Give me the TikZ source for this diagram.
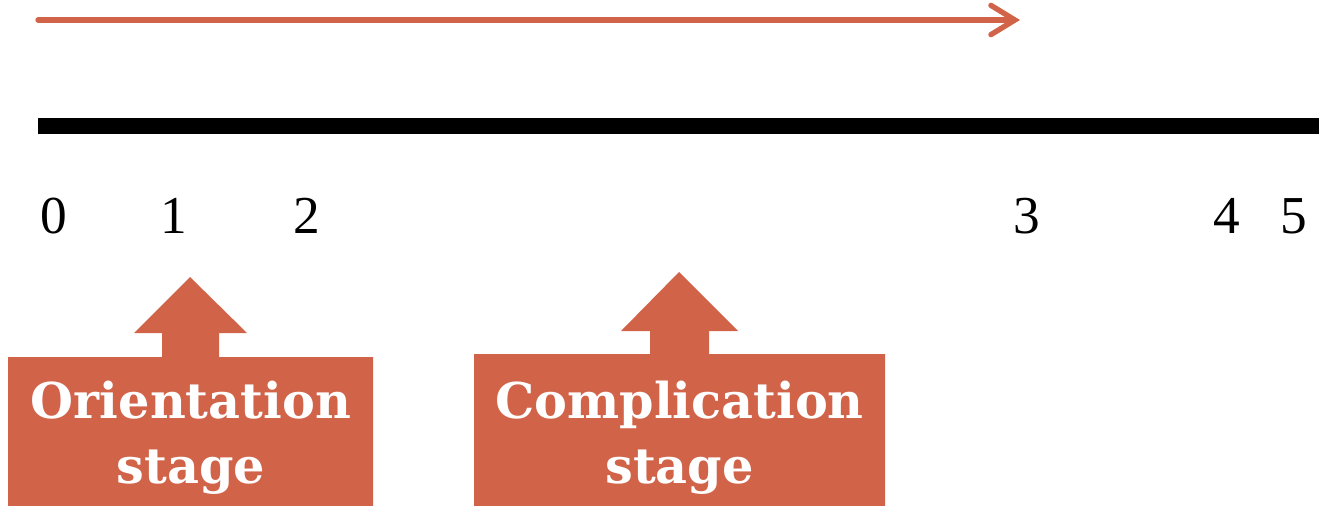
\documentclass[tikz,border=0pt]{standalone}
\usepackage{fontspec}
\setmainfont{Liberation Serif}
\newfontfamily\labfont{DejaVu Serif}
\usetikzlibrary{arrows.meta}
\definecolor{rust}{RGB}{209,99,73}
\tikzset{
  tick/.style={font=\fontsize{40pt}{48pt}\selectfont, anchor=base, inner sep=0pt},
  stagelabel/.style={font=\labfont\bfseries\fontsize{37pt}{48.75pt}\selectfont, text=white, align=center, inner sep=0pt},
  callout/.style={fill=rust},
}
\begin{document}
\begin{tikzpicture}[x=0.75pt,y=-0.75pt]
\useasboundingbox (0,0) rectangle (1319,506);
% timeline arrow
\coordinate (as) at (38,20);
\coordinate (ae) at (1020,20);
\draw[rust, line width=4pt, line cap=round, -{Straight Barb[length=18pt,width=22pt,line cap=round]}] (as) -- (ae);
% black bar
\coordinate (bs) at (38,126);
\coordinate (be) at (1319,126);
\draw[black, line width=12pt] (bs) -- (be);
% numbers
\node[tick] (n0) at (54,233) {0};
\node[tick] (n1) at (174,233) {1};
\node[tick] (n2) at (307,233) {2};
\node[tick] (n3) at (1027,233) {3};
\node[tick] (n4) at (1227,233) {4};
\node[tick] (n5) at (1294,233) {5};
% orientation callout
\fill[callout] (8,507) -- (8,357) -- (162,357) -- (162,333) -- (134,333) -- (190,277)
  -- (247,333) -- (219,333) -- (219,357) -- (373,357) -- (373,507) -- cycle;
\node[stagelabel, anchor=base] (ori) at (191,483) {Orientation\\stage};
% complication callout
\fill[callout] (474,507) -- (474,354) -- (650,354) -- (650,331) -- (621,331) -- (679,272)
  -- (738,331) -- (709,331) -- (709,354) -- (885,354) -- (885,507) -- cycle;
\node[stagelabel, anchor=base] (com) at (679.5,483) {Complication\\stage};
\end{tikzpicture}
\end{document}
